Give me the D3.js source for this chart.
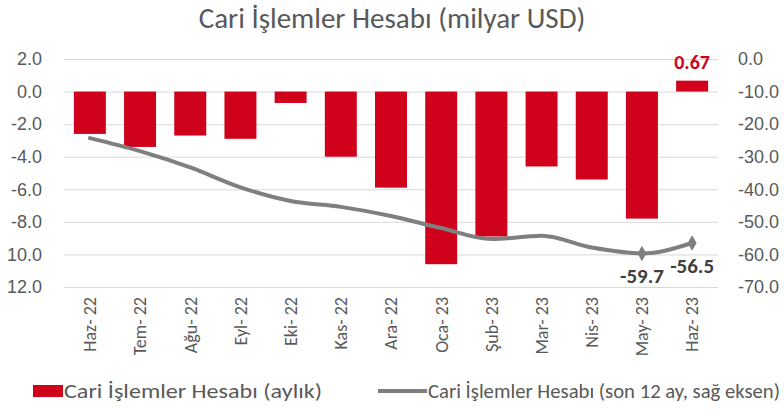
<!DOCTYPE html>
<html>
<head>
<meta charset="utf-8">
<script src="https://cdn.jsdelivr.net/npm/d3@7"></script>
<style>
  body { margin: 0; background: #fff; }
  svg { display: block; font-family: Carlito, "Open Sans", sans-serif; }
</style>
</head>
<body>
<svg width="784" height="414"></svg>
<script>
const months = ['Haz- 22', 'Tem- 22', 'Ağu- 22', 'Eyl- 22', 'Eki- 22', 'Kas- 22', 'Ara- 22',
    'Oca- 23', 'Şub- 23', 'Mar- 23', 'Nis- 23', 'May- 23', 'Haz- 23'];
const monthly = [-2.6, -3.4, -2.7, -2.9, -0.7, -4.0, -5.9, -10.6, -8.9, -4.6, -5.4, -7.8, 0.67];
const rolling = [-24.3, -28.3, -33.3, -39.4, -43.6, -45.4, -48.2, -51.9, -55.3, -54.3, -57.9, -59.7, -56.5];
const leftTicks = [2, 0, -2, -4, -6, -8, -10, -12];
const rightTicks = [0, -10, -20, -30, -40, -50, -60, -70];

const red = '#d0021b', grey = '#7f7f7f', text = '#595959';

const svg = d3.select('svg');
const margin = { top: 59, left: 64, right: 66, bottom: 127 };
const width = 784 - margin.left - margin.right,
    height = 414 - margin.top - margin.bottom;

const x = d3.scaleBand().domain(months).range([0, width]).paddingInner(0.363).paddingOuter(0.197);
const yL = d3.scaleLinear().domain([-12, 2]).range([height, 0]);
const yR = d3.scaleLinear().domain([-70, 0]).range([height, 0]);

const g = svg.append('g').attr('transform', 'translate(' + margin.left + ',' + margin.top + ')');

// gridlines
g.append('g')
    .selectAll('line')
    .data(leftTicks)
    .enter()
    .append('line')
    .attr('x1', 0)
    .attr('x2', width)
    .attr('y1', d => yL(d) + 0.5)
    .attr('y2', d => yL(d) + 0.5)
    .attr('stroke', '#d9d9d9')
    .attr('stroke-width', 1);

// left axis (Excel cuts the minus of the two lowest labels)
g.append('g')
    .attr('transform', 'translate(-19,0)')
    .call(d3.axisLeft(yL).tickValues(leftTicks).tickSize(0)
        .tickFormat(d => (d <= -10 ? Math.abs(d).toFixed(1) : d.toFixed(1))))
    .call(a => a.select('.domain').remove())
    .selectAll('text')
    .attr('fill', text)
    .style('font-size', '18px');

g.append('g')
    .attr('transform', 'translate(' + (width + 17) + ',0)')
    .call(d3.axisRight(yR).tickValues(rightTicks).tickSize(0).tickFormat(d => d.toFixed(1)))
    .call(a => a.select('.domain').remove())
    .selectAll('text')
    .attr('fill', text)
    .style('font-size', '18px');

// bars
g.selectAll('.bar')
    .data(monthly)
    .enter()
    .append('rect')
    .attr('class', 'bar')
    .attr('x', (d, i) => x(months[i]))
    .attr('width', x.bandwidth())
    .attr('y', d => yL(Math.max(0, d)))
    .attr('height', d => Math.abs(yL(d) - yL(0)))
    .attr('fill', red);

// 12-month line
const line = d3.line()
    .x((d, i) => x(months[i]) + x.bandwidth() / 2)
    .y(d => yR(d))
    .curve(d3.curveMonotoneX);

g.append('path')
    .datum(rolling)
    .attr('d', line)
    .attr('fill', 'none')
    .attr('stroke', grey)
    .attr('stroke-width', 4)
    .attr('stroke-linecap', 'round');

const last = [11, 12];
g.selectAll('.marker')
    .data(last)
    .enter()
    .append('path')
    .attr('class', 'marker')
    .attr('d', d3.symbol(d3.symbolDiamond, 70))
    .attr('transform', i => 'translate(' + (x(months[i]) + x.bandwidth() / 2) + ',' + yR(rolling[i]) + ')')
    .attr('fill', grey);

g.selectAll('.lbl')
    .data(last)
    .enter()
    .append('text')
    .attr('class', 'lbl')
    .attr('x', i => x(months[i]) + x.bandwidth() / 2)
    .attr('y', i => yR(rolling[i]) + 30)
    .attr('text-anchor', 'middle')
    .attr('fill', '#404040')
    .style('font-size', '21px')
    .style('font-weight', 'bold')
    .text(i => rolling[i].toFixed(1));

g.append('text')
    .attr('x', x(months[12]) + x.bandwidth() / 2)
    .attr('y', yL(monthly[12]) - 12)
    .attr('text-anchor', 'middle')
    .attr('fill', red)
    .style('font-size', '20px')
    .style('font-weight', 'bold')
    .text(monthly[12].toFixed(2));

// month labels
g.append('g')
    .selectAll('text')
    .data(months)
    .enter()
    .append('text')
    .attr('transform', d => 'translate(' + (x(d) + x.bandwidth() / 2) + ',' + (height + 10) + ') rotate(-90)')
    .attr('text-anchor', 'end')
    .attr('dy', '0.35em')
    .attr('fill', text)
    .style('font-size', '18px')
    .text(d => d);

// title
svg.append('text')
    .attr('x', 392)
    .attr('y', 28)
    .attr('text-anchor', 'middle')
    .attr('fill', text)
    .style('font-size', '29px')
    .text('Cari İşlemler Hesabı (milyar USD)');

// legend
const legend = svg.append('g').attr('transform', 'translate(0,391)');
legend.append('rect').attr('x', 33).attr('y', -6).attr('width', 30).attr('height', 12).attr('fill', red);
legend.append('text').attr('x', 64).attr('y', 7).attr('fill', text).style('font-size', '21px')
    .attr('textLength', 258).attr('lengthAdjust', 'spacingAndGlyphs')
    .text('Cari İşlemler Hesabı (aylık)');
legend.append('line').attr('x1', 378).attr('x2', 427).attr('y1', 0).attr('y2', 0)
    .attr('stroke', grey).attr('stroke-width', 4);
legend.append('text').attr('x', 428).attr('y', 7).attr('fill', text).style('font-size', '21px')
    .attr('textLength', 352).attr('lengthAdjust', 'spacingAndGlyphs')
    .text('Cari İşlemler Hesabı (son 12 ay, sağ eksen)');
</script>
</body>
</html>
